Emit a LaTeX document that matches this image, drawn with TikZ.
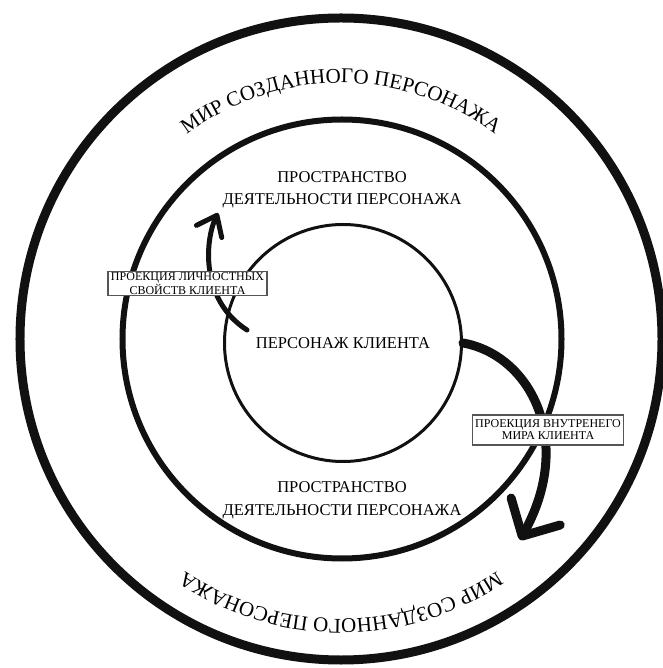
\documentclass[tikz,border=0pt]{standalone}
\usepackage{fontspec}
\setmainfont{Liberation Serif}
\usetikzlibrary{arrows.meta, positioning, decorations.text}
\definecolor{Ink}{HTML}{111111}
\definecolor{Frame}{HTML}{555555}

\tikzset{
  ring/.style={draw=Ink},
  caption/.style={align=center, font=\fontsize{16.5}{22.5}\selectfont},
  tag/.style={draw=Frame, fill=white, line width=1.2pt, align=center,
    inner xsep=3pt, inner ysep=1pt, font=\fontsize{12}{12}\selectfont},
}

\begin{document}
\begin{tikzpicture}[x=1pt, y=1pt, line cap=round]
  \useasboundingbox (-341,-329) rectangle (321,339);
  \draw[ring, line width=9pt] (0,0) circle (321);
  \draw[ring, line width=6pt] (1,0) circle (219.5);
  \node[ring, circle, line width=3pt, minimum size=237pt, inner sep=0pt, caption] (client) at (2,-4) {ПЕРСОНАЖ КЛИЕНТА};

  \foreach \rad/\from/\to in {256/160/20, 280/-20/-160}
    \path[decorate, decoration={text along path, text align=center,
      text={|\fontsize{21}{21}\selectfont|МИР СОЗДАННОГО ПЕРСОНАЖА}}]
      (\from:\rad) arc[start angle=\from, end angle=\to, radius=\rad];

  \node[caption] (upper) at (1,149) {ПРОСТРАНСТВО\\ДЕЯТЕЛЬНОСТИ ПЕРСОНАЖА};
  \node[caption] (lower) at (1,-161.5) {ПРОСТРАНСТВО\\ДЕЯТЕЛЬНОСТИ ПЕРСОНАЖА};

  \coordinate (fromL) at (-94,9);
  \coordinate (toL) at (-123,126);
  \coordinate (toR) at (179,-201);
  \draw[Ink, line width=5pt, -{Straight Barb[length=18pt, width=28pt, round]}]
    (fromL) .. controls (-141,39) and (-136,99) .. (toL);
  \draw[Ink, line width=9pt, -{Straight Barb[length=28pt, width=56pt, round]}]
    (client.east) .. controls (189,-16) and (234,-101) .. (toR);

  \node[tag] (projL) at (-153.5,55.5) {ПРОЕКЦИЯ ЛИЧНОСТНЫХ\\СВОЙСТВ КЛИЕНТА};
  \node[tag, minimum height=30pt] (projR) at (207,-91) {ПРОЕКЦИЯ ВНУТРЕНЕГО\\МИРА КЛИЕНТА};
\end{tikzpicture}
\end{document}
